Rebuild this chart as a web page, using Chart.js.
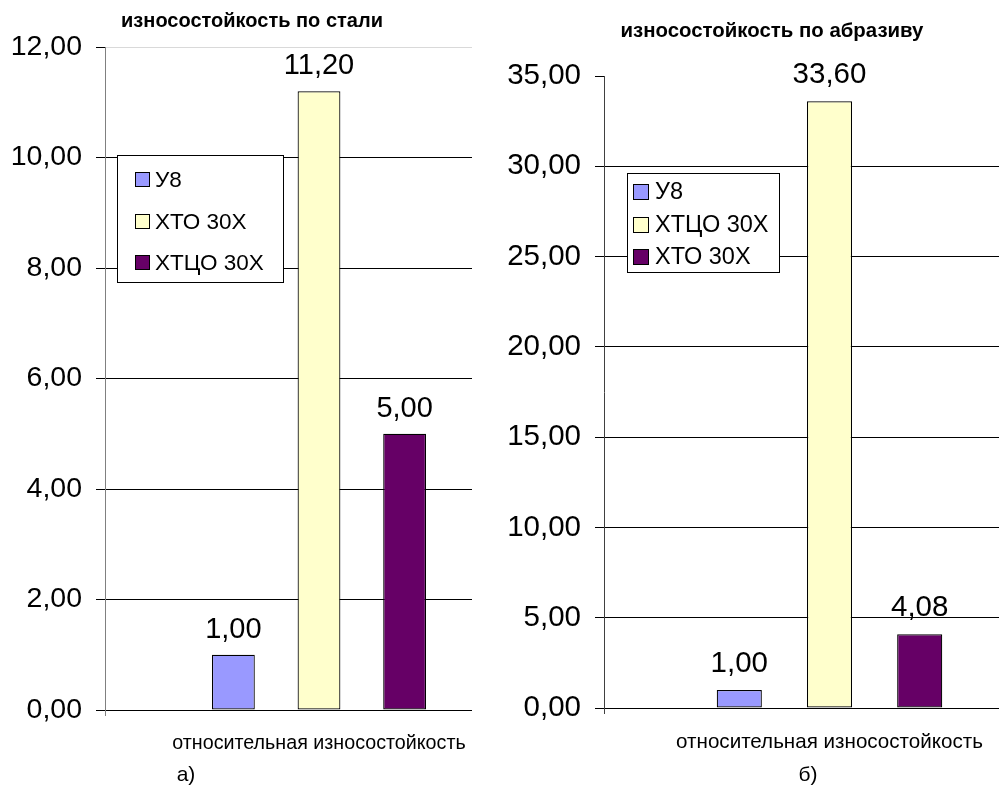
<!DOCTYPE html>
<html>
<head>
<meta charset="utf-8">
<script src="https://cdn.jsdelivr.net/npm/chart.js@4/dist/chart.umd.min.js"></script>
<style>
  html, body { margin: 0; padding: 0; background: #fff; overflow: hidden; width: 999px; height: 787px; }
  .wrap { position: absolute; top: 0; height: 787px; overflow: hidden; }
  #w1 { left: 0; width: 472px; }
  #w2 { left: 499px; width: 500px; }
  canvas { display: block; }
</style>
</head>
<body>
<div class="wrap" id="w1"><canvas id="c1" width="533" height="787"></canvas></div>
<div class="wrap" id="w2"><canvas id="c2" width="556" height="787"></canvas></div>
<script>
// Category shared by both panels
const categories = ['относительная износостойкость'];

// Panel а) — wear resistance against steel
const steelTitle = 'износостойкость по стали';
const steelSeries = ['У8', 'ХТО 30Х', 'ХТЦО 30Х'];
const steelValues = [1.00, 11.20, 5.00];
const steelTicks = [0, 2, 4, 6, 8, 10, 12];

// Panel б) — wear resistance against abrasive
const abrasiveTitle = 'износостойкость по абразиву';
const abrasiveSeries = ['У8', 'ХТЦО 30Х', 'ХТО 30Х'];
const abrasiveValues = [1.00, 33.60, 4.08];
const abrasiveTicks = [0, 5, 10, 15, 20, 25, 30, 35];

const barColors = ['#9999FF', '#FFFFCC', '#660066'];
const FONT = "'Liberation Sans', Arial, sans-serif";
const fmt = v => v.toFixed(2).replace('.', ',');

// Value labels, boxed legend, title and panel caption
const decor = {
  id: 'decor',
  afterDatasetsDraw(chart, args, o) {
    const ctx = chart.ctx;
    ctx.save();
    ctx.fillStyle = '#000';
    ctx.font = o.valueSize + 'px ' + FONT;
    ctx.textAlign = 'center';
    ctx.textBaseline = 'alphabetic';
    chart.data.datasets.forEach((ds, i) => {
      chart.getDatasetMeta(i).data.forEach((bar, j) => {
        ctx.fillText(fmt(ds.data[j]), bar.x, bar.y - o.valueGap);
      });
    });

    const L = o.legend;
    ctx.fillStyle = '#fff';
    ctx.fillRect(L.x, L.y, L.w, L.h);
    ctx.strokeStyle = '#000';
    ctx.lineWidth = 1;
    ctx.strokeRect(L.x + 0.5, L.y + 0.5, L.w, L.h);
    ctx.font = L.size + 'px ' + FONT;
    ctx.textAlign = 'left';
    ctx.textBaseline = 'middle';
    chart.data.datasets.forEach((ds, i) => {
      const cy = Math.round(L.firstY + i * L.step);
      const top = cy - Math.round(L.sw / 2);
      ctx.fillStyle = ds.backgroundColor;
      ctx.fillRect(L.swX, top, L.sw, L.sw);
      ctx.strokeRect(L.swX + 0.5, top + 0.5, L.sw - 1, L.sw - 1);
      ctx.fillStyle = '#000';
      ctx.fillText(ds.label, L.textX, cy + 1);
    });

    ctx.textAlign = 'center';
    ctx.textBaseline = 'alphabetic';
    ctx.font = 'bold ' + o.title.size + 'px ' + FONT;
    ctx.fillText(o.title.text, o.title.x, o.title.y);
    ctx.font = o.caption.size + 'px ' + FONT;
    ctx.fillText(o.caption.text, o.caption.x, o.caption.y);
    ctx.restore();
  }
};

function makeChart(id, series, values, ticks, cfg) {
  const maxV = ticks[ticks.length - 1];
  const step = ticks[1] - ticks[0];
  return new Chart(document.getElementById(id), {
    type: 'bar',
    data: {
      labels: categories,
      datasets: series.map((name, i) => ({
        label: name,
        data: [values[i]],
        backgroundColor: barColors[i],
        borderColor: '#000',
        borderWidth: 1.2,
        borderSkipped: false,
        categoryPercentage: 0.6,
        barPercentage: 0.5
      }))
    },
    options: {
      responsive: false,
      animation: false,
      layout: { padding: { top: cfg.top, left: 0, right: 0, bottom: 0 } },
      plugins: {
        legend: { display: false },
        tooltip: { enabled: false },
        decor: cfg.decor
      },
      scales: {
        x: {
          offset: true,
          grid: { display: true, drawOnChartArea: false, drawTicks: true, tickLength: 6, color: cfg.axisColor },
          border: { display: false },
          ticks: { color: '#000', font: { family: FONT, size: cfg.xSize }, padding: cfg.xPad, maxRotation: 0 },
          afterFit: s => { s.height = cfg.xHeight; }
        },
        y: {
          min: 0, max: maxV,
          grid: {
            color: c => (c.tick && c.tick.value === maxV) ? cfg.topGrid : '#000',
            tickColor: '#000', tickLength: 9, lineWidth: 1
          },
          border: { display: true, color: cfg.axisColor, width: 1 },
          ticks: {
            stepSize: step, color: '#000', padding: 14,
            font: { family: FONT, size: cfg.ySize },
            callback: v => fmt(v)
          },
          afterFit: s => { s.width = 105; }
        }
      }
    },
    plugins: [decor]
  });
}

makeChart('c1', steelSeries, steelValues, steelTicks, {
  top: 47, xHeight: 77, xSize: 19.7, xPad: 16, ySize: 28.5,
  axisColor: '#808080', topGrid: '#d9d9d9',
  decor: {
    valueSize: 29, valueGap: 17,
    legend: { x: 117, y: 155, w: 166, h: 127, swX: 135, sw: 15, textX: 155, firstY: 180, step: 41.5, size: 22.5 },
    title: { text: steelTitle, x: 252, y: 27, size: 20 },
    caption: { text: 'а)', x: 186, y: 781, size: 21 }
  }
});

makeChart('c2', abrasiveSeries, abrasiveValues, abrasiveTicks, {
  top: 76, xHeight: 79, xSize: 20.6, xPad: 16, ySize: 29.5,
  axisColor: '#404040', topGrid: 'rgba(0,0,0,0)',
  decor: {
    valueSize: 29.5, valueGap: 18,
    legend: { x: 128, y: 173, w: 152, h: 99, swX: 134, sw: 16, textX: 156, firstY: 192, step: 32.5, size: 23.5 },
    title: { text: abrasiveTitle, x: 273, y: 37, size: 20.4 },
    caption: { text: 'б)', x: 309, y: 781, size: 21 }
  }
});
</script>
</body>
</html>
